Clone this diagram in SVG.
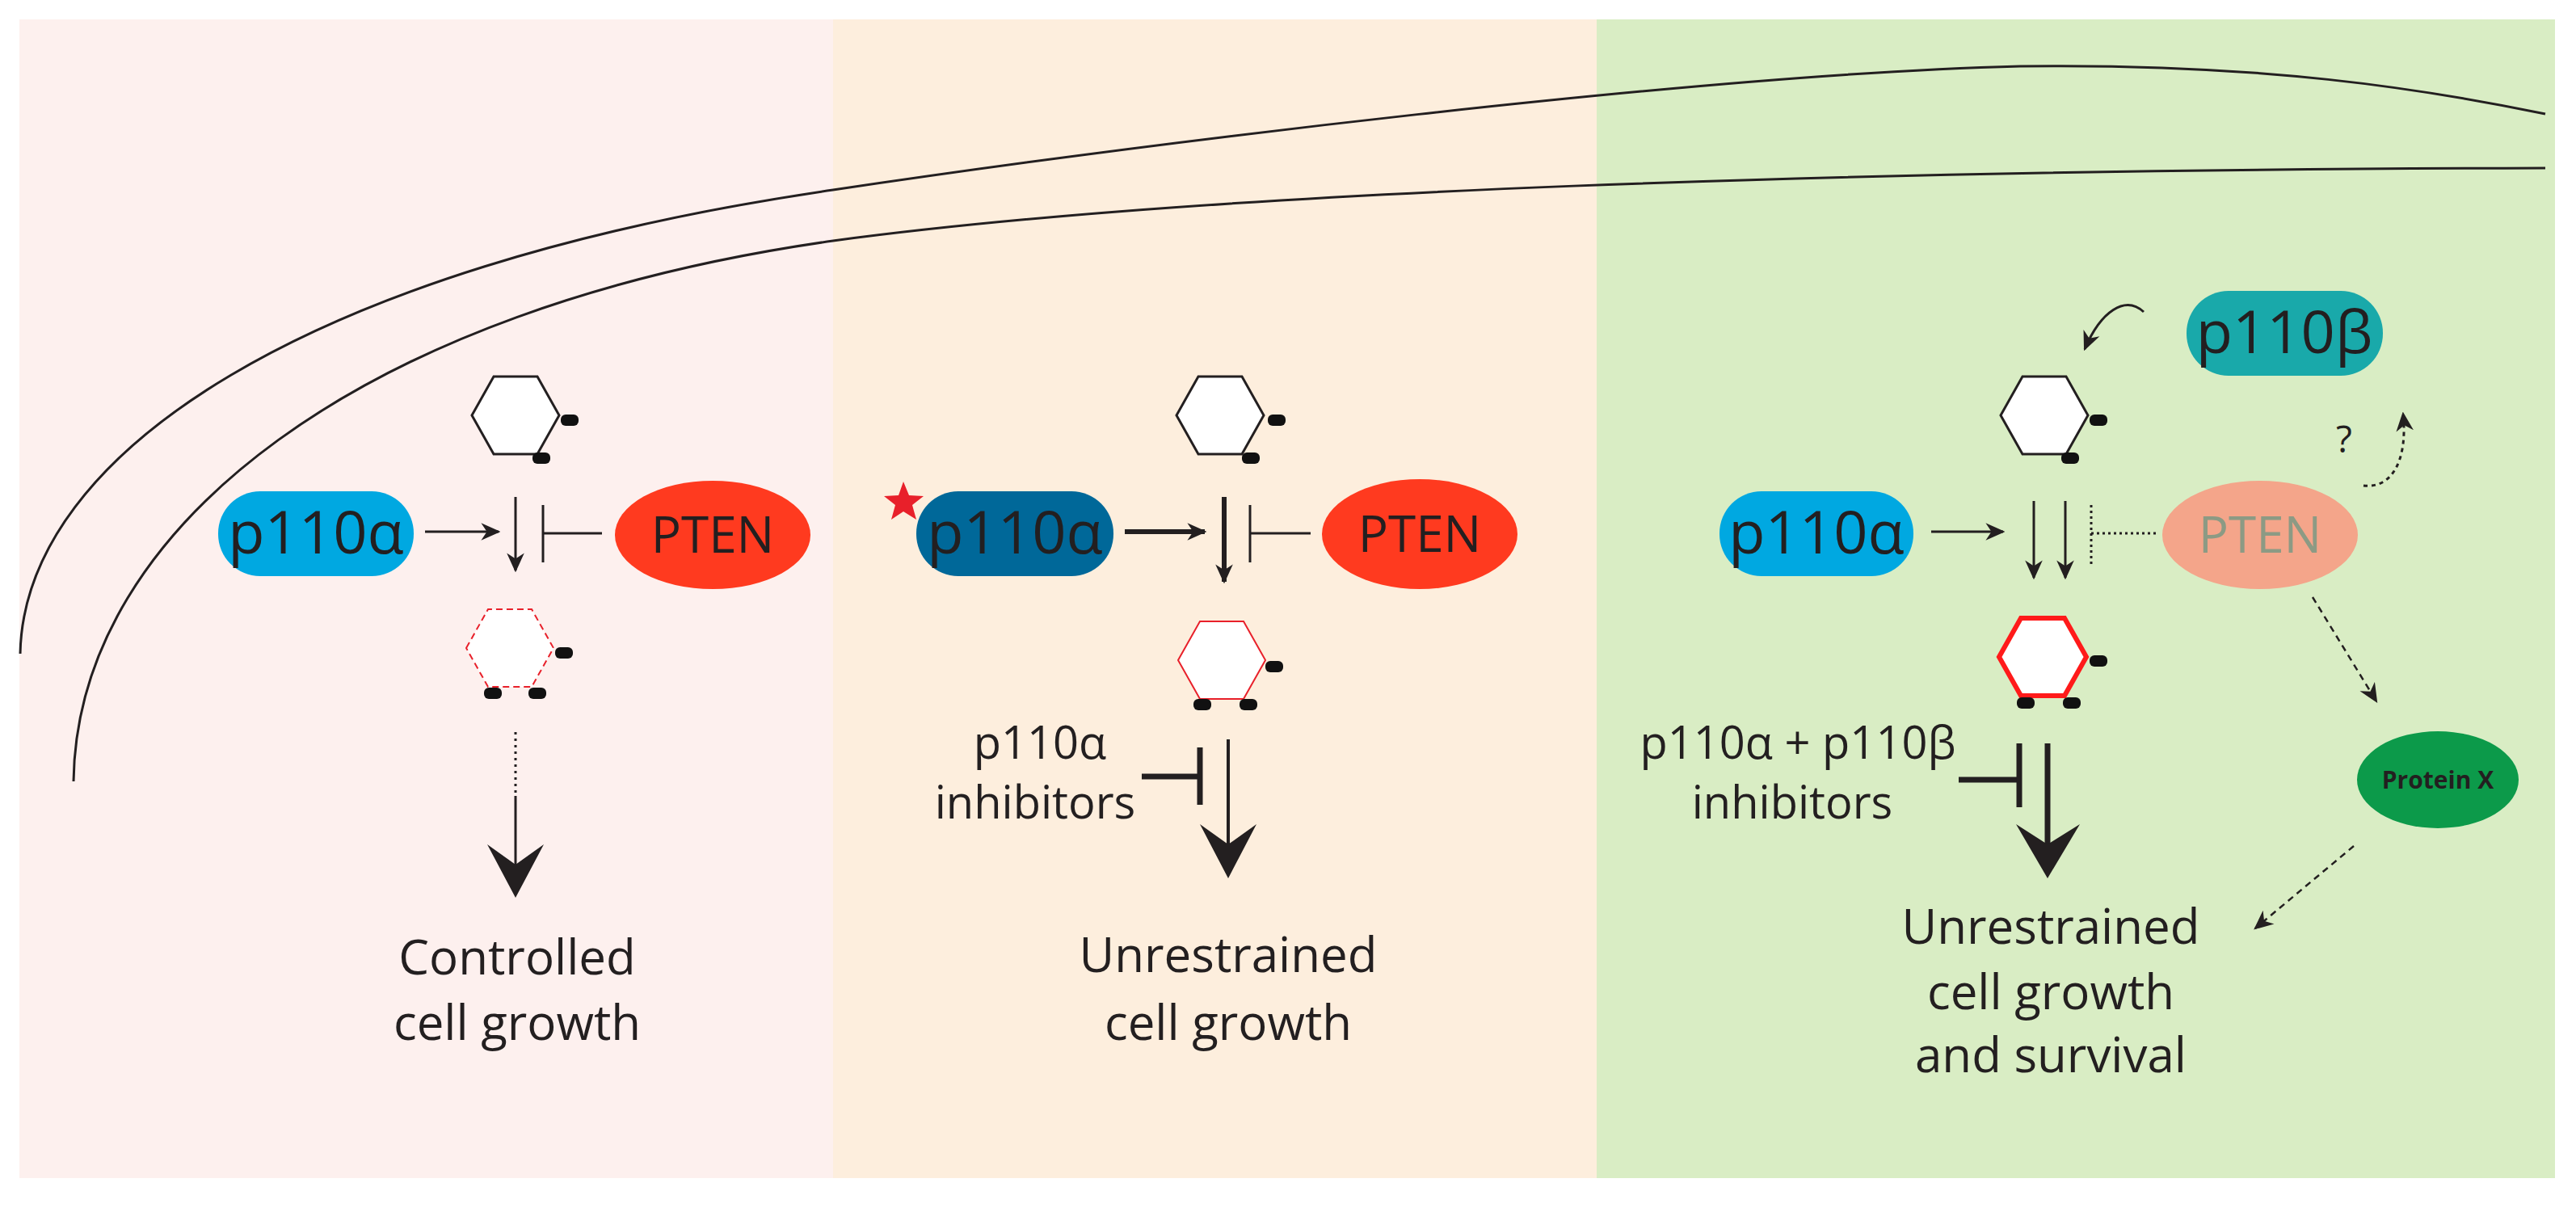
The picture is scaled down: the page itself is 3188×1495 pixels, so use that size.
<svg xmlns="http://www.w3.org/2000/svg" width="3188" height="1495" viewBox="0 0 3188 1495">
<style>
.t{font-family:"Open Sans","Liberation Sans",sans-serif;fill:#231f20}
.ln{stroke:#231f20;fill:none}
.dot{fill:#111}
</style>
<defs>
<marker id="ahs" viewBox="0 0 10 10" refX="9" refY="5" markerWidth="24" markerHeight="24" orient="auto" markerUnits="userSpaceOnUse">
<path d="M0,0.5 L10,5 L0,9.5 L3,5 Z" fill="#231f20"/>
</marker>
<path id="hex" d="M-54,0 L-27,-48 L27,-48 L54,0 L27,48 L-27,48 Z"/>
<rect id="d" x="-11" y="-7" width="22" height="14" rx="6"/>
</defs>
<rect width="3188" height="1495" fill="#fff"/>
<rect x="24" y="24" width="1007" height="1434" fill="#fdf0ee"/>
<rect x="1031" y="24" width="945" height="1434" fill="#fdeedd"/>
<rect x="1976" y="24" width="1186" height="1434" fill="#d9edc4"/>
<g id="membrane" class="ln" stroke-width="3">
<path d="M25,809 C30,560 380,330 1031,235 C1400,180 2100,92 2500,82 C2800,78 3000,110 3150,141"/>
<path d="M91,967 C95,650 450,380 1031,298 C1500,235 2300,210 3150,208"/>
</g>
<g id="panel1">
<g id="hex1a"><use href="#hex" x="638" y="514" fill="#fff" stroke="#231f20" stroke-width="3"/><use href="#d" x="705" y="520" class="dot"/><use href="#d" x="670" y="567" class="dot"/></g>
<g id="p110a1"><rect x="270" y="608" width="242" height="105" rx="52" fill="#00a8e1"/><text x="391" y="685" class="t" font-size="74" text-anchor="middle">p110α</text></g>
<g id="pten1"><ellipse cx="882" cy="662" rx="121" ry="67" fill="#ff3a1f"/><text x="882" y="684" class="t" font-size="62" text-anchor="middle">PTEN</text></g>
<g id="hex1b"><use href="#hex" x="631" y="802" fill="#fff" stroke="#e8202a" stroke-width="2" stroke-dasharray="8,5"/><use href="#d" x="698" y="808" class="dot"/><use href="#d" x="610" y="858" class="dot"/><use href="#d" x="665" y="858" class="dot"/></g>
<g id="out1"><text x="640" y="1206" class="t" font-size="60" text-anchor="middle">Controlled</text><text x="640" y="1287" class="t" font-size="60" text-anchor="middle">cell growth</text></g>
</g>
<g id="panel2">
<g id="hex2a"><use href="#hex" x="1510" y="514" fill="#fff" stroke="#231f20" stroke-width="3"/><use href="#d" x="1580" y="520" class="dot"/><use href="#d" x="1548" y="567" class="dot"/></g>
<g id="p110a2"><path d="M1118,596 l7,17 18,1 -14,11 5,18 -16,-10 -15,10 5,-18 -14,-11 18,-1 Z" fill="#e8202a"/><rect x="1134" y="608" width="244" height="105" rx="52" fill="#006899"/><text x="1256" y="685" class="t" font-size="74" text-anchor="middle">p110α</text></g>
<g id="pten2"><ellipse cx="1757" cy="661" rx="121" ry="68" fill="#ff3a1f"/><text x="1757" y="683" class="t" font-size="62" text-anchor="middle">PTEN</text></g>
<g id="hex2b"><use href="#hex" x="1512" y="817" fill="#fff" stroke="#e8202a" stroke-width="2"/><use href="#d" x="1577" y="825" class="dot"/><use href="#d" x="1488" y="872" class="dot"/><use href="#d" x="1545" y="872" class="dot"/></g>
<g id="inh2"><text x="1287" y="939" class="t" font-size="56" text-anchor="middle">p110α</text><text x="1281" y="1013" class="t" font-size="56" text-anchor="middle">inhibitors</text></g>
<g id="out2"><text x="1520" y="1203" class="t" font-size="60" text-anchor="middle">Unrestrained</text><text x="1520" y="1287" class="t" font-size="60" text-anchor="middle">cell growth</text></g>
</g>
<g id="panel3">
<g id="p110b"><rect x="2706" y="360" width="243" height="105" rx="52" fill="#19a9aa"/><text x="2827" y="437" class="t" font-size="74" text-anchor="middle">p110β</text></g>
<g id="hex3a"><use href="#hex" x="2530" y="514" fill="#fff" stroke="#231f20" stroke-width="3"/><use href="#d" x="2597" y="520" class="dot"/><use href="#d" x="2562" y="567" class="dot"/></g>
<text x="2901" y="560" class="t" font-size="46" text-anchor="middle">?</text>
<g id="p110a3"><rect x="2128" y="608" width="240" height="105" rx="52" fill="#00a8e1"/><text x="2248" y="685" class="t" font-size="74" text-anchor="middle">p110α</text></g>
<g id="pten3"><ellipse cx="2797" cy="662" rx="121" ry="67" fill="#f4a58a"/><text x="2797" y="684" font-family="Open Sans,Liberation Sans,sans-serif" font-size="62" fill="#8c9a84" text-anchor="middle">PTEN</text></g>
<g id="hex3b"><use href="#hex" x="2528" y="813" fill="#fff" stroke="#ff1a1a" stroke-width="6"/><use href="#d" x="2597" y="818" class="dot"/><use href="#d" x="2507" y="870" class="dot"/><use href="#d" x="2564" y="870" class="dot"/></g>
<g id="protx"><ellipse cx="3017" cy="965" rx="100" ry="60" fill="#0c9a4a"/><text x="3017" y="976" class="t" font-size="30" font-weight="bold" text-anchor="middle">Protein X</text></g>
<g id="inh3"><text x="2225" y="939" class="t" font-size="56" text-anchor="middle">p110α + p110β</text><text x="2218" y="1013" class="t" font-size="56" text-anchor="middle">inhibitors</text></g>
<g id="out3"><text x="2538" y="1168" class="t" font-size="60" text-anchor="middle">Unrestrained</text><text x="2538" y="1249" class="t" font-size="60" text-anchor="middle">cell growth</text><text x="2538" y="1327" class="t" font-size="60" text-anchor="middle">and survival</text></g>
</g>
<g id="connectors" class="ln">
<line x1="526" y1="658" x2="617" y2="658" stroke-width="3" marker-end="url(#ahs)"/>
<line x1="638" y1="615" x2="638" y2="706" stroke-width="3" marker-end="url(#ahs)"/>
<line x1="672" y1="625" x2="672" y2="696" stroke-width="3"/>
<line x1="672" y1="660" x2="745" y2="660" stroke-width="3"/>
<line x1="638" y1="906" x2="638" y2="985" stroke-width="3" stroke-dasharray="3,5"/>
<line x1="638" y1="985" x2="638" y2="1080" stroke-width="3"/>
<path d="M638,1111 L603,1045 L638,1070 L673,1045 Z" fill="#231f20" stroke="none"/>
<line x1="1392" y1="658" x2="1491" y2="658" stroke-width="6" marker-end="url(#ahs)"/>
<line x1="1515" y1="615" x2="1515" y2="720" stroke-width="6" marker-end="url(#ahs)"/>
<line x1="1547" y1="625" x2="1547" y2="696" stroke-width="3"/>
<line x1="1547" y1="660" x2="1622" y2="660" stroke-width="3"/>
<line x1="1413" y1="961" x2="1485" y2="961" stroke-width="7"/>
<line x1="1485" y1="925" x2="1485" y2="996" stroke-width="7"/>
<line x1="1520" y1="915" x2="1520" y2="1060" stroke-width="4"/>
<path d="M1520,1087 L1485,1020 L1520,1045 L1555,1020 Z" fill="#231f20" stroke="none"/>
<path d="M2653,386 C2630,365 2600,385 2580,432" stroke-width="3" marker-end="url(#ahs)"/>
<path d="M2925,601 C2960,605 2980,570 2974,512" stroke-width="3" stroke-dasharray="5,5" marker-end="url(#ahs)"/>
<line x1="2390" y1="658" x2="2479" y2="658" stroke-width="3" marker-end="url(#ahs)"/>
<line x1="2517" y1="620" x2="2517" y2="715" stroke-width="3" marker-end="url(#ahs)"/>
<line x1="2556" y1="620" x2="2556" y2="715" stroke-width="3" marker-end="url(#ahs)"/>
<line x1="2588" y1="625" x2="2588" y2="701" stroke-width="3" stroke-dasharray="3,4"/>
<line x1="2588" y1="660" x2="2668" y2="660" stroke-width="3" stroke-dasharray="3,4"/>
<line x1="2862" y1="739" x2="2941" y2="868" stroke-width="2.5" stroke-dasharray="8,6" marker-end="url(#ahs)"/>
<line x1="2913" y1="1047" x2="2791" y2="1149" stroke-width="2.5" stroke-dasharray="8,6" marker-end="url(#ahs)"/>
<line x1="2424" y1="965" x2="2499" y2="965" stroke-width="7"/>
<line x1="2499" y1="920" x2="2499" y2="999" stroke-width="7"/>
<line x1="2534" y1="920" x2="2534" y2="1060" stroke-width="7"/>
<path d="M2534,1087 L2495,1020 L2534,1045 L2574,1020 Z" fill="#231f20" stroke="none"/>
</g>
</svg>
